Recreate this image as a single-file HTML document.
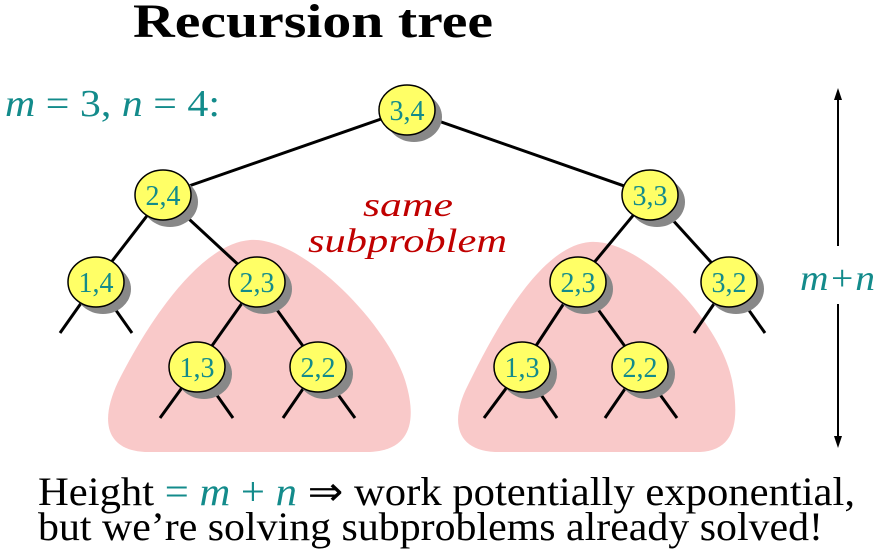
<!DOCTYPE html>
<html><head><meta charset="utf-8"><style>
html,body{margin:0;padding:0;background:#fff;}
svg{display:block;}
text{font-family:"Liberation Serif",serif;}
</style></head><body>
<svg width="880" height="552" viewBox="0 0 880 552" xmlns="http://www.w3.org/2000/svg">
<text x="133" y="37" textLength="360" lengthAdjust="spacingAndGlyphs" font-weight="bold" font-size="48">Recursion tree</text>
<text x="5" y="116" textLength="215" lengthAdjust="spacingAndGlyphs" font-size="38" fill="#138b8b"><tspan font-style="italic">m</tspan> = 3, <tspan font-style="italic">n</tspan> = 4:</text>
<path d="M250 240 C300 236 385 320 405 380 C418 422 410 450 370 452 L145 452 C105 450 100 420 118 382 C148 322 200 244 250 240 Z" fill="#f9c9c9"/>
<path d="M590 242 C640 238 720 320 732 380 C740 422 735 450 700 452 L495 452 C455 450 450 420 468 385 C495 330 540 246 590 242 Z" fill="#f9c9c9"/>
<text x="363" y="216" textLength="90" lengthAdjust="spacingAndGlyphs" font-style="italic" font-size="34" fill="#c00000">same</text>
<text x="308" y="252" textLength="199" lengthAdjust="spacingAndGlyphs" font-style="italic" font-size="34" fill="#c00000">subproblem</text>
<g stroke="#000" stroke-width="3" fill="none">
<line x1="407" y1="110" x2="163" y2="195"/><line x1="407" y1="110" x2="650" y2="195"/>
<line x1="163" y1="195" x2="96" y2="282"/><line x1="163" y1="195" x2="257" y2="282"/>
<line x1="650" y1="195" x2="578" y2="282"/><line x1="650" y1="195" x2="729" y2="282"/>
<line x1="257" y1="282" x2="197" y2="367"/><line x1="257" y1="282" x2="318" y2="367"/>
<line x1="578" y1="282" x2="522" y2="367"/><line x1="578" y1="282" x2="640" y2="367"/>
<line x1="96" y1="282" x2="60" y2="333"/><line x1="96" y1="282" x2="132" y2="333"/>
<line x1="729" y1="282" x2="694" y2="333"/><line x1="729" y1="282" x2="765" y2="333"/>
<line x1="197" y1="367" x2="160" y2="418"/><line x1="197" y1="367" x2="233" y2="418"/>
<line x1="318" y1="367" x2="283" y2="418"/><line x1="318" y1="367" x2="355" y2="418"/>
<line x1="522" y1="367" x2="484" y2="418"/><line x1="522" y1="367" x2="557" y2="418"/>
<line x1="640" y1="367" x2="605" y2="418"/><line x1="640" y1="367" x2="677" y2="418"/>
</g>
<g font-size="28" fill="#138b8b" text-anchor="middle">
<g transform="translate(407,110)"><ellipse cx="7" cy="7" rx="28" ry="25" fill="#888"/><ellipse rx="28" ry="25" fill="#ffff66" stroke="#000" stroke-width="1.5"/><text y="10">3,4</text></g>
<g transform="translate(163,195)"><ellipse cx="7" cy="7" rx="28" ry="25" fill="#888"/><ellipse rx="28" ry="25" fill="#ffff66" stroke="#000" stroke-width="1.5"/><text y="10">2,4</text></g>
<g transform="translate(650,195)"><ellipse cx="7" cy="7" rx="28" ry="25" fill="#888"/><ellipse rx="28" ry="25" fill="#ffff66" stroke="#000" stroke-width="1.5"/><text y="10">3,3</text></g>
<g transform="translate(96,282)"><ellipse cx="7" cy="7" rx="28" ry="25" fill="#888"/><ellipse rx="28" ry="25" fill="#ffff66" stroke="#000" stroke-width="1.5"/><text y="10">1,4</text></g>
<g transform="translate(257,282)"><ellipse cx="7" cy="7" rx="28" ry="25" fill="#888"/><ellipse rx="28" ry="25" fill="#ffff66" stroke="#000" stroke-width="1.5"/><text y="10">2,3</text></g>
<g transform="translate(578,282)"><ellipse cx="7" cy="7" rx="28" ry="25" fill="#888"/><ellipse rx="28" ry="25" fill="#ffff66" stroke="#000" stroke-width="1.5"/><text y="10">2,3</text></g>
<g transform="translate(729,282)"><ellipse cx="7" cy="7" rx="28" ry="25" fill="#888"/><ellipse rx="28" ry="25" fill="#ffff66" stroke="#000" stroke-width="1.5"/><text y="10">3,2</text></g>
<g transform="translate(197,367)"><ellipse cx="7" cy="7" rx="28" ry="25" fill="#888"/><ellipse rx="28" ry="25" fill="#ffff66" stroke="#000" stroke-width="1.5"/><text y="10">1,3</text></g>
<g transform="translate(318,367)"><ellipse cx="7" cy="7" rx="28" ry="25" fill="#888"/><ellipse rx="28" ry="25" fill="#ffff66" stroke="#000" stroke-width="1.5"/><text y="10">2,2</text></g>
<g transform="translate(522,367)"><ellipse cx="7" cy="7" rx="28" ry="25" fill="#888"/><ellipse rx="28" ry="25" fill="#ffff66" stroke="#000" stroke-width="1.5"/><text y="10">1,3</text></g>
<g transform="translate(640,367)"><ellipse cx="7" cy="7" rx="28" ry="25" fill="#888"/><ellipse rx="28" ry="25" fill="#ffff66" stroke="#000" stroke-width="1.5"/><text y="10">2,2</text></g>
</g>
<g stroke="#000" stroke-width="2">
<line x1="838" y1="96" x2="838" y2="246"/><line x1="838" y1="304" x2="838" y2="440"/>
</g>
<path d="M838 88 L834 100 L842 100 Z M838 448 L834 436 L842 436 Z" fill="#000"/>
<text x="800" y="290" textLength="75" lengthAdjust="spacingAndGlyphs" font-style="italic" font-size="36" fill="#138b8b">m+n</text>
<text x="38" y="505" textLength="817" lengthAdjust="spacingAndGlyphs" font-size="40">Height <tspan fill="#138b8b">= <tspan font-style="italic">m</tspan> + <tspan font-style="italic">n</tspan></tspan> ⇒ work potentially exponential,</text>
<text x="38" y="540" textLength="785" lengthAdjust="spacingAndGlyphs" font-size="40">but we’re solving subproblems already solved!</text>
</svg>
</body></html>
